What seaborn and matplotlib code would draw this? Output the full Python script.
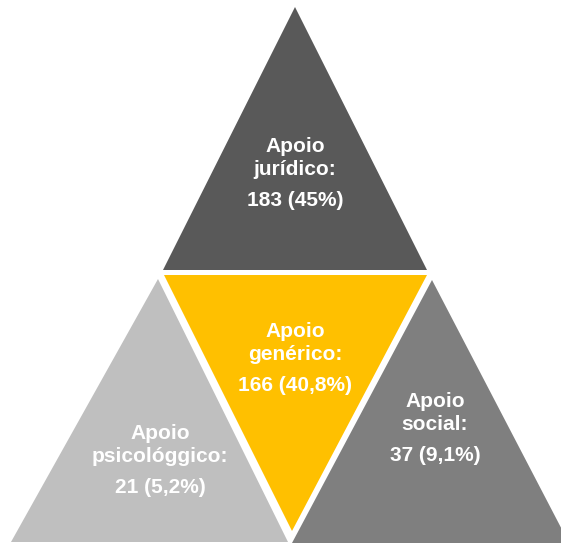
import matplotlib
matplotlib.use("Agg")
import matplotlib.pyplot as plt
import seaborn as sns

sns.set_theme(style="white")
plt.rcParams['font.family'] = ['Liberation Sans', 'DejaVu Sans']

# Data
names = ["Apoio\njurídico:", "Apoio\ngenérico:", "Apoio\npsicológgico:", "Apoio\nsocial:"]
counts = [183, 166, 21, 37]
pcts = ["45%", "40,8%", "5,2%", "9,1%"]
colors = ["#595959", "#FFC000", "#BFBFBF", "#7F7F7F"]

# Layout (pixel coordinates)
triangles = [
    [(295, 7), (163, 270), (427, 270)],
    [(164, 275), (427, 275), (292, 531)],
    [(158, 279), (11, 542), (288, 542)],
    [(432, 280), (292, 543), (569, 543)],
]
text_pos = [(295, 152), (295, 337), (160, 439), (435, 407)]

fig = plt.figure(figsize=(5.61, 5.43), dpi=100)
ax = fig.add_axes([0, 0, 1, 1])
ax.set_xlim(0, 561)
ax.set_ylim(543, 0)
ax.axis("off")

for tri, c in zip(triangles, colors):
    xs = [p[0] for p in tri]
    ys = [p[1] for p in tri]
    ax.fill(xs, ys, color=c, lw=0)

for name, n, p, (x, y) in zip(names, counts, pcts, text_pos):
    l1, l2 = name.split("\n")
    kw = dict(ha="center", va="baseline", color="white", fontsize=15, fontweight="bold")
    ax.text(x, y, l1, **kw)
    ax.text(x, y + 23, l2, **kw)
    ax.text(x, y + 54, f"{n} ({p})", **kw)

fig.savefig("out.png", dpi=100)
